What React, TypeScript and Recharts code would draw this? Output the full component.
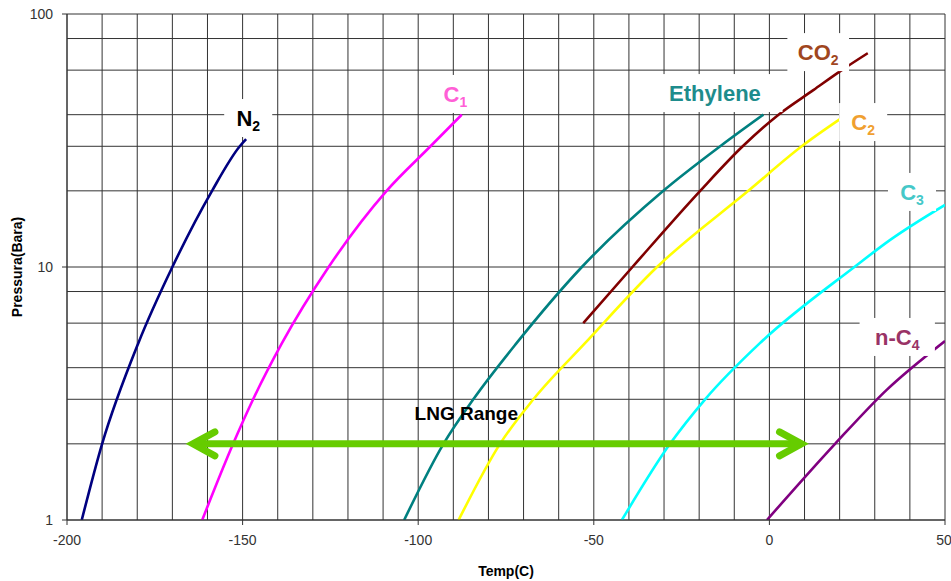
import React from "react";
import {
  LineChart,
  Line,
  XAxis,
  YAxis,
  CartesianGrid,
  ReferenceLine,
  ReferenceDot,
} from "recharts";

// temperature (C) vs vapour pressure (bara)
const xTicks = [-200, -150, -100, -50, 0, 50];
const yTicks = [1, 10, 100];
const xGrid = [-200, -190, -180, -170, -160, -150, -140, -130, -120, -110, -100, -90, -80, -70, -60, -50, -40, -30, -20, -10, 0, 10, 20, 30, 40, 50];
const yGrid = [1, 2, 3, 4, 5, 6, 7, 8, 9, 10, 20, 30, 40, 50, 60, 70, 80, 90, 100];

const n2 = [
  { t: -195.8, p: 1 }, { t: -190, p: 2 }, { t: -179.7, p: 5 },
  { t: -170, p: 10 }, { t: -158.7, p: 20 }, { t: -150.8, p: 30 }, { t: -149, p: 32 },
];
const c1 = [
  { t: -161.5, p: 1 }, { t: -152.7, p: 2 }, { t: -147, p: 3 }, { t: -138.8, p: 5 },
  { t: -125.5, p: 10 }, { t: -109, p: 20 }, { t: -96.5, p: 30 }, { t: -87.6, p: 40 },
];
const ethylene = [
  { t: -104, p: 1 }, { t: -92.8, p: 2 }, { t: -84.3, p: 3 }, { t: -72, p: 5 },
  { t: -53.4, p: 10 }, { t: -30.2, p: 20 }, { t: -14, p: 30 }, { t: -1.7, p: 40 },
];
const co2 = [
  { t: -53, p: 6 }, { t: -39, p: 10 }, { t: -19.7, p: 20 }, { t: -7.6, p: 30 },
  { t: 2.6, p: 40 }, { t: 12.5, p: 50 }, { t: 20.6, p: 60 }, { t: 28, p: 70 },
];
const c2 = [
  { t: -88.5, p: 1 }, { t: -76.7, p: 2 }, { t: -67.2, p: 3 }, { t: -52.5, p: 5 },
  { t: -32, p: 10 }, { t: -6, p: 20 }, { t: 9.2, p: 30 }, { t: 20.1, p: 38.4 },
];
const c3 = [
  { t: -42, p: 1 }, { t: -28.3, p: 2 }, { t: -18.3, p: 3 }, { t: -2.7, p: 5 },
  { t: 24.2, p: 10 }, { t: 34.4, p: 12.8 }, { t: 50, p: 17.6 },
];
const nc4 = [
  { t: -0.7, p: 1 }, { t: 18.7, p: 2 }, { t: 33.4, p: 3.27 }, { t: 50, p: 5.1 },
];

const lngRange = [-165, 10];
const lngPressure = 2;

const series = [
  { id: "n2", data: n2, color: "#000080" },
  { id: "c1", data: c1, color: "#FF00FF" },
  { id: "ethylene", data: ethylene, color: "#008080" },
  { id: "co2", data: co2, color: "#800000" },
  { id: "c2", data: c2, color: "#FFFF00" },
  { id: "c3", data: c3, color: "#00FFFF" },
  { id: "nc4", data: nc4, color: "#800080" },
];

const labels = [
  { main: "N", sub: "2", t: -148.4, p: 38.8, color: "#000000", box: true },
  { main: "C", sub: "1", t: -89.4, p: 48.3, color: "#FF5FD6", box: true },
  { main: "Ethylene", sub: "", t: -15.5, p: 48.7, color: "#1E8C8C", box: true },
  { main: "CO", sub: "2", t: 13.9, p: 70.7, color: "#A0461E", box: true },
  { main: "C", sub: "2", t: 26.7, p: 37.4, color: "#F0A030", box: true },
  { main: "C", sub: "3", t: 40.6, p: 19.8, color: "#45C8C8", box: true },
  { main: "n-C", sub: "4", t: 36.4, p: 5.29, color: "#993366", box: true },
  { main: "LNG Range", sub: "", t: -86.3, p: 2.65, color: "#000000", box: false },
];

const FONT = "'Liberation Sans', Arial, sans-serif";

const LabelBox = ({ cx, cy, main, sub, color, box }: any) => {
  const size = box ? 22 : 19;
  const subSize = 14;
  const w = main.length * size * 0.62 + sub.length * subSize * 0.6 + 26;
  const h = 38;
  return (
    <g>
      {box && <rect x={cx - w / 2} y={cy - h / 2} width={w} height={h} fill="#ffffff" />}
      <text
        x={cx}
        y={cy + size * 0.36}
        textAnchor="middle"
        fill={color}
        fontSize={size}
        fontWeight="bold"
        fontFamily={FONT}
      >
        {main}
        {sub && (
          <tspan fontSize={subSize} dy={5}>
            {sub}
          </tspan>
        )}
      </text>
    </g>
  );
};

const Arrow = ({ x1, y1, x2 }: any) => {
  const c = "#66CC00";
  const sw = 7;
  return (
    <g stroke={c} strokeWidth={sw} strokeLinecap="round" fill="none">
      <line x1={x1 + 3} y1={y1} x2={x2 - 3} y2={y1} strokeLinecap="butt" />
      <polyline points={`${x1 + 25},${y1 - 12} ${x1 + 3},${y1} ${x1 + 25},${y1 + 12}`} strokeLinejoin="miter" />
      <polyline points={`${x2 - 25},${y1 - 12} ${x2 - 3},${y1} ${x2 - 25},${y1 + 12}`} strokeLinejoin="miter" />
    </g>
  );
};

export default function App() {
  return (
    <div style={{ position: "absolute", left: 0, top: 0, width: 951, height: 581, background: "#fff" }}>
      <LineChart width={951} height={581} margin={{ top: 14, right: 6, bottom: 0, left: 0 }}>
        <CartesianGrid stroke="#333" strokeWidth={1} horizontalValues={yGrid} verticalValues={xGrid} />
        <XAxis
          type="number"
          dataKey="t"
          domain={[-200, 50]}
          ticks={xTicks}
          allowDataOverflow
          height={61}
          stroke="#333"
          tickSize={5}
          tickMargin={10}
          tick={{ fill: "#333", fontSize: 14, fontFamily: FONT }}
          label={{ value: "Temp(C)", position: "insideBottom", offset: 5, fill: "#000", fontSize: 14, fontWeight: "bold", fontFamily: FONT }}
        />
        <YAxis
          type="number"
          scale="log"
          dataKey="p"
          domain={[1, 100]}
          ticks={yTicks}
          allowDataOverflow
          width={67}
          stroke="#333"
          tickSize={5}
          tickMargin={9}
          tick={{ fill: "#333", fontSize: 14, fontFamily: FONT }}
          label={{ value: "Pressura(Bara)", angle: -90, position: "insideLeft", offset: 17, style: { textAnchor: "middle" }, fill: "#000", fontSize: 14, fontWeight: "bold", fontFamily: FONT }}
        />
        {series.map((s) => (
          <Line
            key={s.id}
            data={s.data}
            dataKey="p"
            type="monotone"
            stroke={s.color}
            strokeWidth={2.6}
            dot={false}
            isAnimationActive={false}
          />
        ))}
        <ReferenceLine
          segment={[{ x: lngRange[0], y: lngPressure }, { x: lngRange[1], y: lngPressure }]}
          shape={(props: any) => <Arrow {...props} />}
        />
        {labels.map((l) => (
          <ReferenceDot
            key={l.main + l.sub}
            x={l.t}
            y={l.p}
            r={0}
            shape={(props: any) => <LabelBox cx={props.cx} cy={props.cy} {...l} />}
          />
        ))}
      </LineChart>
    </div>
  );
}
